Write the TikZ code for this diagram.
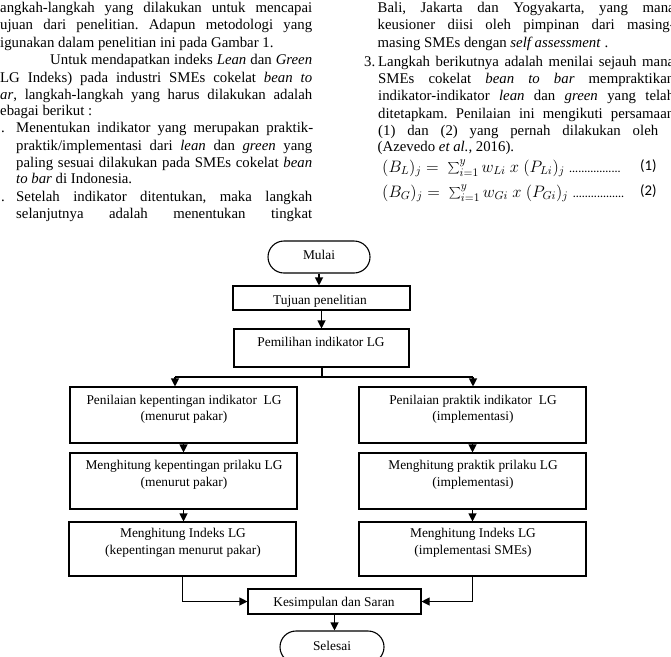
\documentclass[tikz,border=0pt]{standalone}
\usepackage{graphicx}
\usepackage{fontspec}
\setmainfont{Liberation Serif}
\newfontfamily\calib{Carlito}
\usetikzlibrary{arrows.meta}
\newcommand{\justline}[2]{\makebox[#1][s]{#2}}
\tikzset{
  body/.style={inner sep=0pt, anchor=mid west, font=\fontsize{14.8}{17}\selectfont},
  ft/.style={inner sep=0pt, anchor=mid, font=\fontsize{13.4}{16}\selectfont},
  flowbox/.style={draw, line width=1.1pt, inner sep=0pt},
  termbox/.style={flowbox, rounded corners=16pt, minimum width=102pt, minimum height=32pt},
  arr/.style={line width=1.1pt, -{Triangle[width=8pt,length=8pt]}},
  ln/.style={line width=1.1pt}
}
\begin{document}
\frenchspacing
\begin{tikzpicture}[x=1pt,y=-1pt]
\useasboundingbox (0,0) rectangle (671,656);
\clip (0,0) rectangle (671,656);
\fill[white] (0,0) rectangle (671,656);

% ---------- left column ----------
\node[body] (l1) at (0,10) {\justline{312pt}{angkah-langkah yang dilakukan untuk mencapai}};
\node[body] (l2) at (0,27.5) {\justline{312pt}{ujuan dari penelitian. Adapun metodologi yang}};
\node[body] (l3) at (0,45) {igunakan dalam penelitian ini pada Gambar 1.};
\node[body] (l4) at (50,62.5) {\justline{262pt}{Untuk mendapatkan indeks \textit{Lean} dan \textit{Green}}};
\node[body] (l5) at (0,80) {\justline{312pt}{LG Indeks) pada industri SMEs cokelat \textit{bean to}}};
\node[body] (l6) at (0,97) {\justline{312pt}{\textit{ar}, langkah-langkah yang harus dilakukan adalah}};
\node[body] (l7) at (0,113.5) {ebagai berikut :};
\node[body] (n1) at (1,130.5) {.};
\node[body] (l8) at (16,130.5) {\justline{297pt}{Menentukan indikator yang merupakan praktik-}};
\node[body] (l9) at (16,148) {\justline{296pt}{praktik/implementasi dari \textit{lean} dan \textit{green} yang}};
\node[body] (l10) at (16,165) {\justline{296pt}{paling sesuai dilakukan pada SMEs cokelat \textit{bean}}};
\node[body] (l11) at (16,181.5) {\textit{to bar} di Indonesia.};
\node[body] (n2) at (1,199) {.};
\node[body] (l12) at (16,199) {\justline{296pt}{Setelah indikator ditentukan, maka langkah}};
\node[body] (l13) at (16,216.5) {\justline{296pt}{selanjutnya adalah menentukan tingkat}};

% ---------- right column ----------
\node[body] (r1) at (377.5,10) {\justline{297pt}{Bali, Jakarta dan Yogyakarta, yang mana}};
\node[body] (r2) at (377.5,27.5) {\justline{297pt}{keusioner diisi oleh pimpinan dari masing-}};
\node[body] (r3) at (377.5,45) {masing SMEs dengan \textit{self assessment} .};
\node[body] (n3) at (364,64) {3.};
\node[body] (r4) at (378,64) {\justline{296pt}{Langkah berikutnya adalah menilai sejauh mana}};
\node[body] (r5) at (378,81.5) {\justline{296pt}{SMEs cokelat \textit{bean to bar} mempraktikan}};
\node[body] (r6) at (378,98.5) {\justline{296pt}{indikator-indikator \textit{lean} dan \textit{green} yang telah}};
\node[body] (r7) at (378,116) {\justline{296pt}{ditetapkam. Penilaian ini mengikuti persamaan}};
\node[body] (r8) at (378,133) {\justline{280pt}{(1) dan (2) yang pernah dilakukan oleh}};
\node[body] (r9) at (377.5,149.5) {(Azevedo \textit{et al.,} 2016).};
\node[body] (e1) at (382,170) {\scalebox{1.15}{$(B_L)_j =\ \textstyle\sum_{i=1}^{y} w_{Li}\ x\ (P_{Li})_j$}};
\node[inner sep=0pt, anchor=base west, font=\calib\fontsize{12}{14}\selectfont] (d1) at ([xshift=4pt]e1.base east) {.................};
\node[body, font=\calib\fontsize{14.8}{17}\selectfont] (q1) at (640,168) {(1)};
\node[body] (e2) at (382,195) {\scalebox{1.15}{$(B_G)_j =\ \textstyle\sum_{i=1}^{y} w_{Gi}\ x\ (P_{Gi})_j$}};
\node[inner sep=0pt, anchor=base west, font=\calib\fontsize{12}{14}\selectfont] (d2) at ([xshift=4pt]e2.base east) {.................};
\node[body, font=\calib\fontsize{14.8}{17}\selectfont] (q2) at (640,193) {(2)};

% ---------- flowchart ----------
\node[termbox] (M) at (319,257) {};
\node[ft] (Mt) at (319,257) {Mulai};

\node[flowbox, minimum width=177pt, minimum height=24pt] (T) at (321.5,298) {};
\begin{scope}
  \clip (233,286) rectangle (410,307);
  \node[ft] (Tt) at (320,302) {Tujuan penelitian};
\end{scope}

\node[flowbox, minimum width=175pt, minimum height=38pt] (P) at (321.5,348) {};
\node[ft] (Pt) at (321,344) {Pemilihan indikator LG};

\node[flowbox, minimum width=227pt, minimum height=56pt] (L1) at (183.5,415) {};
\node[ft] (L1a) at (184,402) {Penilaian kepentingan indikator~ LG};
\node[ft] (L1b) at (184,418) {(menurut pakar)};
\node[flowbox, minimum width=227pt, minimum height=56pt] (L2) at (183.5,481) {};
\node[ft] (L2a) at (184,467) {Menghitung kepentingan prilaku LG};
\node[ft] (L2b) at (184,484) {(menurut pakar)};
\node[flowbox, minimum width=227pt, minimum height=54pt] (L3) at (182.5,549) {};
\node[ft] (L3a) at (183,535) {Menghitung Indeks LG};
\node[ft] (L3b) at (183,552) {(kepentingan menurut pakar)};

\node[flowbox, minimum width=227pt, minimum height=56pt] (R1) at (472.5,415) {};
\node[ft] (R1a) at (473,402) {Penilaian praktik indikator~ LG};
\node[ft] (R1b) at (473,418) {(implementasi)};
\node[flowbox, minimum width=227pt, minimum height=56pt] (R2) at (472.5,481) {};
\node[ft] (R2a) at (473,467) {Menghitung praktik prilaku LG};
\node[ft] (R2b) at (473,484) {(implementasi)};
\node[flowbox, minimum width=227pt, minimum height=54pt] (R3) at (472.5,549) {};
\node[ft] (R3a) at (473,535) {Menghitung Indeks LG};
\node[ft] (R3b) at (473,552) {(implementasi SMEs)};

\node[flowbox, minimum width=173pt, minimum height=25pt] (K) at (334.5,601.5) {};
\begin{scope}
  \clip (248,589) rectangle (421,611);
  \node[ft] (Kt) at (334,604) {Kesimpulan dan Saran};
\end{scope}

\node[termbox, minimum width=104pt] (S) at (332,647) {};
\node[ft] (St) at (332,648) {Selesai};

% connectors
\draw[arr] (M.south) -- (M.south |- T.north);
\draw[arr] (T.south) -- (T.south |- P.north);
\coordinate (sp) at (322,377);
\coordinate (spL) at (175,377);
\coordinate (spR) at (473,377);
\draw[ln] (sp |- P.south) -- (sp);
\draw[ln] (spL) -- (spR);
\draw[arr] (spL) -- (spL |- L1.north);
\draw[arr] (spR) -- (spR |- R1.north);
\draw[arr] (L1.south) -- (L1.south |- L2.north);
\draw[arr] (L2.south) -- (L2.south |- L3.north);
\draw[arr] (R1.south) -- (R1.south |- R2.north);
\draw[arr] (R2.south) -- (R2.south |- R3.north);
\draw[arr] (L3.south) |- (K.west);
\draw[arr] (R3.south) |- (K.east);
\draw[arr] (K.south) -- (K.south |- S.north);
\end{tikzpicture}
\end{document}
